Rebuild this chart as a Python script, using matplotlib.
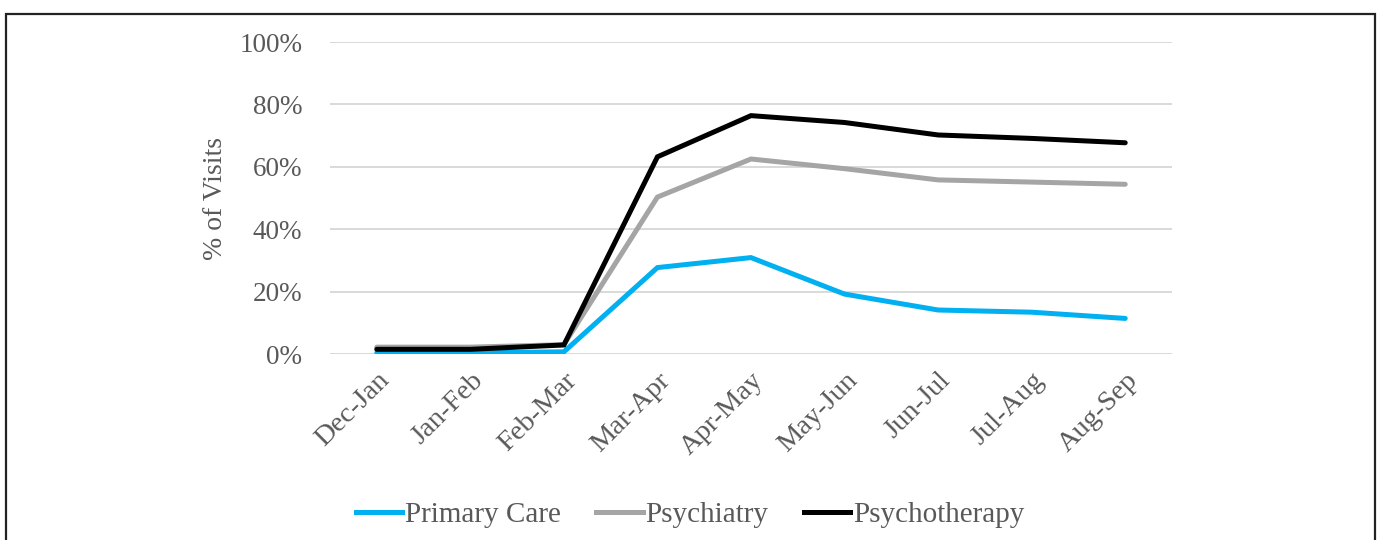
import matplotlib.pyplot as plt
from matplotlib.patches import Rectangle
from matplotlib.lines import Line2D
from matplotlib.ticker import FuncFormatter

periods = ["Dec-Jan", "Jan-Feb", "Feb-Mar", "Mar-Apr", "Apr-May",
           "May-Jun", "Jun-Jul", "Jul-Aug", "Aug-Sep"]
primary_care = [0.4, 0.4, 0.7, 27.7, 30.9, 19.2, 14.1, 13.4, 11.4]
psychiatry = [2.2, 2.2, 3.0, 50.3, 62.5, 59.4, 55.8, 55.1, 54.4]
psychotherapy = [1.5, 1.5, 2.9, 63.2, 76.4, 74.2, 70.2, 69.1, 67.7]

series = [("Primary Care", primary_care, "#00B0F0"),
          ("Psychiatry", psychiatry, "#A5A5A5"),
          ("Psychotherapy", psychotherapy, "#000000")]

plt.rcParams["font.family"] = ["Liberation Serif", "DejaVu Serif"]
text_color = "#595959"

fig = plt.figure(figsize=(13.77, 5.4), dpi=100)
ax = fig.add_axes([330 / 1377, 1 - 354 / 540, 842 / 1377, 312 / 540])

x = list(range(len(periods)))
for name, vals, color in series:
    ax.plot(x, vals, color=color, lw=3.6, solid_capstyle="round",
            solid_joinstyle="miter", label=name, zorder=3)

ax.set_xlim(-0.5, len(periods) - 0.5)
ax.set_ylim(0, 100)
ax.set_yticks([0, 20, 40, 60, 80, 100])
ax.yaxis.set_major_formatter(FuncFormatter(lambda v, p: f"{v:.0f}%"))
ax.grid(axis="y", color="#D9D9D9", lw=1.4, zorder=0)
ax.set_xticks(x)
ax.set_xticklabels(periods, rotation=45, ha="right", rotation_mode="anchor")
for s in ax.spines.values():
    s.set_visible(False)
ax.tick_params(axis="both", length=0, labelcolor=text_color)
ax.tick_params(axis="y", pad=20, labelsize=19.5)
ax.tick_params(axis="x", pad=10, labelsize=20.5)
ax.set_ylabel("% of Visits", fontsize=20, color=text_color, labelpad=8)

handles = [Line2D([0], [0], color=c, lw=3.6) for _, _, c in series]
fig.legend(handles, [n for n, _, _ in series], loc="center",
           bbox_to_anchor=(690 / 1377, 1 - 515 / 540), ncol=3, frameon=False,
           fontsize=21, labelcolor=text_color, handlelength=1.6,
           handletextpad=0.1, columnspacing=1.2)

fig.patches.append(Rectangle((6 / 1377, -0.05), 1369 / 1377, 1.05 - 14 / 540,
                             transform=fig.transFigure, fill=False,
                             edgecolor="#222222", lw=1.6))

fig.savefig("out.png", dpi=100)
